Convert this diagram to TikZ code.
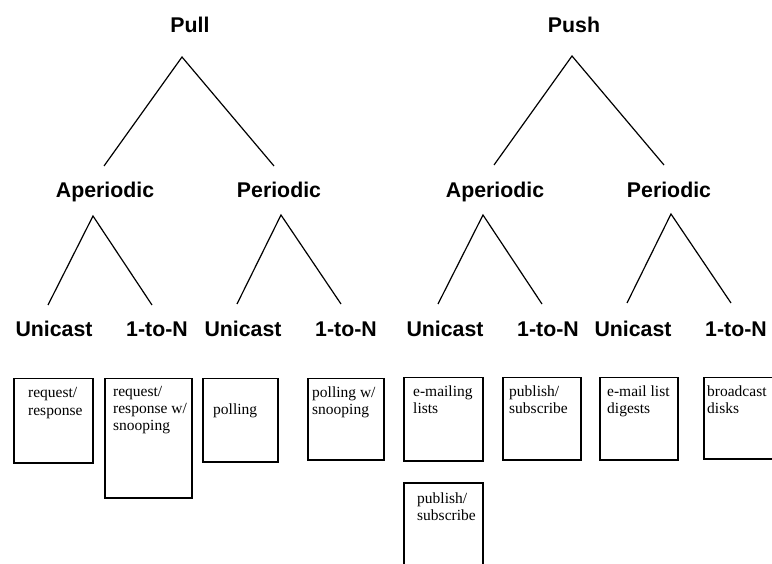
\documentclass[tikz,border=0pt]{standalone}
\usepackage{fontspec}
\setmainfont{Liberation Serif}
\newfontfamily\headfont{Liberation Sans}
\begin{document}
\begin{tikzpicture}[x=1pt,y=-1pt,
  head/.style={font=\headfont\bfseries\fontsize{21.3}{25}\selectfont, inner sep=0pt, anchor=base},
  branch/.style={line width=1.2pt},
  boxframe/.style={draw, line width=1.5pt, anchor=north west, inner sep=0pt},
  boxtext/.style={font=\fontsize{15.5}{17.5}\selectfont, inner sep=0pt, anchor=base west, text width=90pt, align=flush left}]
\useasboundingbox (0,0) rectangle (772,564);
\begin{scope}
\clip (0,0) rectangle (772,564);
% ---------- Pull tree ----------
\node[head] (pull) at (190,33) {Pull};
\node[head] (paper) at (105,198) {Aperiodic};
\node[head] (pper) at (279,198) {Periodic};
\node[head] (pau) at (54,337) {Unicast};
\node[head] (pan) at (157,337) {1-to-N};
\node[head] (ppu) at (243,337) {Unicast};
\node[head] (ppn) at (346,337) {1-to-N};
\coordinate (pullA) at (182,57);
\coordinate (pullL) at (104,166);
\coordinate (pullR) at (274,166);
\coordinate (paperA) at (93,216);
\coordinate (paperL) at (48,305);
\coordinate (paperR) at (152,305);
\coordinate (pperA) at (281,215);
\coordinate (pperL) at (237,304);
\coordinate (pperR) at (341,304);
\draw[branch] (pullL) -- (pullA) -- (pullR);
\draw[branch] (paperL) -- (paperA) -- (paperR);
\draw[branch] (pperL) -- (pperA) -- (pperR);
% ---------- Push tree ----------
\node[head] (push) at (574,33) {Push};
\node[head] (saper) at (495,198) {Aperiodic};
\node[head] (sper) at (669,198) {Periodic};
\node[head] (sau) at (445,337) {Unicast};
\node[head] (san) at (548,337) {1-to-N};
\node[head] (spu) at (633,337) {Unicast};
\node[head] (spn) at (736,337) {1-to-N};
\coordinate (pushA) at (572,56);
\coordinate (pushL) at (494,165);
\coordinate (pushR) at (664,165);
\coordinate (saperA) at (483,215);
\coordinate (saperL) at (438,304);
\coordinate (saperR) at (542,304);
\coordinate (sperA) at (671,214);
\coordinate (sperL) at (627,303);
\coordinate (sperR) at (731,303);
\draw[branch] (pushL) -- (pushA) -- (pushR);
\draw[branch] (saperL) -- (saperA) -- (saperR);
\draw[branch] (sperL) -- (sperA) -- (sperR);
% ---------- boxes ----------
\node[boxframe, minimum width=79pt, minimum height=84pt] (b1) at (13,378) {};
\node[boxtext] (t1) at (28,398) {request/\\response};
\node[boxframe, minimum width=87pt, minimum height=119pt] (b2) at (104,378) {};
\node[boxtext] (t2) at (113,396) {request/\\response w/\\snooping};
\node[boxframe, minimum width=75pt, minimum height=83pt] (b3) at (202,378) {};
\node[boxtext] (t3) at (213,414) {polling};
\node[boxframe, minimum width=76pt, minimum height=81pt] (b4) at (307,378) {};
\node[boxtext] (t4) at (312,397) {polling w/\\snooping};
\node[boxframe, minimum width=79pt, minimum height=83pt] (b5) at (403,377) {};
\node[boxtext] (t5) at (413,396) {e-mailing\\lists};
\node[boxframe, minimum width=78pt, minimum height=82pt] (b6) at (502,377) {};
\node[boxtext] (t6) at (509,396) {publish/\\subscribe};
\node[boxframe, minimum width=78pt, minimum height=82pt] (b7) at (599,377) {};
\node[boxtext] (t7) at (607,396) {e-mail list\\digests};
\node[boxframe, minimum width=90pt, minimum height=81pt] (b8) at (703,377) {};
\node[boxtext] (t8) at (707,396) {broadcast\\disks};
\node[boxframe, minimum width=79pt, minimum height=100pt] (b9) at (403,482) {};
\node[boxtext] (t9) at (417,503) {publish/\\subscribe};
\end{scope}
\end{tikzpicture}
\end{document}
